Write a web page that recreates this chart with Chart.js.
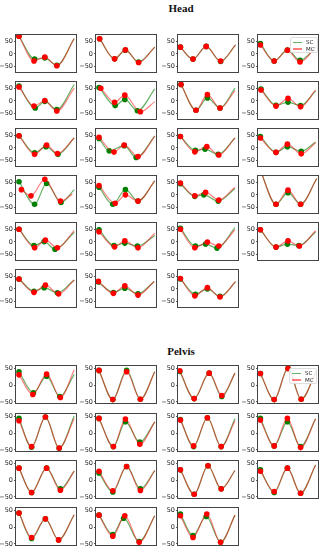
<!DOCTYPE html>
<html>
<head>
<meta charset="utf-8">
<script src="https://cdn.jsdelivr.net/npm/chart.js@4.4.1/dist/chart.umd.min.js"></script>
<style>
  body { margin: 0; background: #fff; width: 324px; height: 550px; position: relative; overflow: hidden; font-family: "DejaVu Sans", sans-serif; }
  canvas { position: absolute; }
  .ttl { position: absolute; font-family: "Liberation Serif", serif; font-weight: bold; font-size: 11px; line-height: 12px; transform: translateX(-50%); color: #111; }
  .leg { position: absolute; background: rgba(255,255,255,0.85); border: 1px solid #ddd; border-radius: 2px; font-size: 5.5px; color: #222; box-sizing: border-box; padding: 1px 2px; }
  .leg div { height: 6.5px; line-height: 6.5px; white-space: nowrap; }
  .leg span.ln { display: inline-block; width: 9px; height: 1.3px; vertical-align: middle; margin-right: 4px; }
</style>
</head>
<body>
<div class="ttl" style="left:181px; top:2px;">Head</div>
<div class="ttl" style="left:181px; top:345px;">Pelvis</div>
<script>
// y ticks and names
const yTicks = [-50, 0, 50];
const seriesNames = ["SC", "MC"];

// panel grid (pixels of the frame)
const colLeft = [16, 96, 178, 258];
const headTop = [34, 81, 128, 175, 222, 269];
const pelvisTop = [365, 413, 460, 507];

// Head: per panel [start, min, max, min, end]
const headScX = [
  [5,31,48,68,97],[6,31,49,71,98],[4,25,47,71,96],[4,27,49,70,97],
  [5,32,48,68,97],[5,32,48,69,98],[5,30,49,70,95],[5,30,50,71,96],
  [5,31,50,70,97],[5,22,47,67,98],[4,29,45,67,95],[4,30,49,72,96],
  [5,31,51,75,97],[5,28,49,70,98],[4,28,43,67,95],[3,30,50,71,98],
  [5,30,47,65,97],[5,30,48,69,98],[4,29,46,65,95],[4,30,49,68,96],
  [5,30,47,69,97],[4,29,48,70,97],[4,29,49,70,96]
];
const headSc = [
  [71,-21,-16,-46,62],[61,-20,15,-33,27],[27,-21,30,-31,36],[42,-29,15,-26,28],
  [60,-29,-2,-35,66],[54,-19,6,-40,48],[66,-38,12,-29,51],[48,-18,-5,-19,40],
  [49,-20,5,-26,40],[38,-12,9,-39,48],[46,-10,-5,-26,40],[46,-18,5,-14,24],
  [53,-38,46,-31,21],[31,-38,21,-25,56],[45,-6,0,-25,26],[105,-38,9,-38,66],
  [51,-15,1,-30,39],[49,-15,-5,-17,26],[55,-17,-9,-25,57],[49,-21,-9,-15,40],
  [40,-10,5,-16,36],[28,-15,3,-20,30],[40,-22,0,-30,28]
];
const headMcX = [
  [5,30,48,68,97],[6,31,49,71,98],[4,25,47,71,96],[4,27,49,70,97],
  [5,30,48,68,97],[8,31,48,74,98],[5,30,49,70,95],[5,30,50,71,96],
  [5,31,51,69,97],[5,30,47,70,98],[4,28,48,68,95],[4,30,49,72,96],
  [9,25,48,74,94],[5,32,49,70,98],[4,28,46,68,95],[3,30,50,71,98],
  [5,31,49,69,97],[5,31,48,70,98],[4,28,49,68,95],[4,30,50,69,96],
  [5,30,49,71,97],[4,29,48,70,97],[4,28,49,70,96]
];
const headMc = [
  [71,-29,-13,-48,61],[61,-20,16,-35,27],[27,-21,30,-29,36],[36,-29,15,-33,30],
  [56,-21,1,-41,51],[51,-6,23,-44,-3],[66,-38,25,-29,41],[44,-21,10,-24,44],
  [49,-26,11,-23,40],[43,-17,11,-35,46],[46,-16,5,-29,40],[40,-18,15,-24,21],
  [21,-4,63,-25,3],[38,-34,0,-25,56],[48,-4,10,-21,31],[105,-38,19,-38,66],
  [51,-24,7,-24,45],[41,-20,4,-24,35],[51,-24,-1,-17,49],[49,-21,4,-17,45],
  [40,-14,15,-20,36],[30,-18,12,-25,30],[42,-28,5,-33,30]
];

// Pelvis
const pelvisScX = [
  [5,29,51,73,97],[5,28,51,74,98],[3,27,52,73,95],[4,27,50,72,97],
  [5,26,49,72,97],[5,29,49,73,98],[4,26,49,72,95],[4,27,49,71,96],
  [5,26,51,74,97],[5,28,51,74,98],[4,27,50,72,95],[4,27,49,71,96],
  [5,26,49,71,97],[5,28,46,72,98],[4,25,47,71,95]
];
const pelvisSc = [
  [39,-23,26,-34,31],[43,-43,43,-42,39],[40,-40,35,-34,35],[34,-43,49,-42,40],
  [43,-42,47,-45,50],[43,-40,33,-27,33],[40,-40,45,-40,43],[43,-38,33,-40,42],
  [35,-37,35,-26,26],[21,-35,40,-26,28],[30,-42,42,-26,28],[30,-37,35,-39,44],
  [41,-34,24,-38,36],[35,-22,26,-43,33],[38,-25,31,-45,35]
];
const pelvisMcX = [
  [5,28,51,74,97],[5,28,51,74,98],[3,27,52,73,95],[4,27,50,72,97],
  [5,26,49,72,97],[5,29,49,73,98],[4,26,49,72,95],[4,27,49,71,96],
  [5,26,51,74,97],[5,28,51,74,98],[4,27,50,72,95],[4,27,49,71,96],
  [5,26,49,71,97],[5,28,48,72,98],[4,25,48,71,95]
];
const pelvisMc = [
  [30,-28,32,-37,44],[43,-43,39,-42,39],[42,-40,35,-31,35],[34,-43,49,-42,40],
  [36,-40,47,-44,43],[43,-40,41,-33,33],[38,-38,45,-40,36],[38,-38,43,-43,42],
  [35,-37,35,-30,26],[26,-32,40,-31,28],[30,-42,42,-26,28],[26,-34,35,-39,44],
  [41,-31,24,-38,36],[35,-27,33,-45,33],[33,-31,38,-45,35]
];

const frame = {
  id: "frame",
  afterDraw(chart) {
    const { ctx, chartArea: a } = chart;
    ctx.save();
    ctx.strokeStyle = "#444";
    ctx.lineWidth = 1;
    ctx.strokeRect(a.left - 0.5, a.top - 0.5, a.right - a.left + 1, a.bottom - a.top + 1);
    ctx.restore();
  }
};

function series(xs, ys) {
  return xs.map((x, i) => ({ x: x, y: ys[i] }));
}

function makePanel(left, top, scX, sc, mcX, mc, yMin, yMax) {
  const c = document.createElement("canvas");
  c.width = 16 + 62 + 2;
  c.height = 39 + 6;
  c.style.left = left - 16 + "px";
  c.style.top = top - 3 + "px";
  document.body.appendChild(c);
  const radii = sc.map((_, i) => (i < 4 ? 2.8 : 0));
  new Chart(c, {
    type: "line",
    data: {
      datasets: [
        {
          label: seriesNames[1],
          data: series(mcX, mc),
          borderColor: "rgba(255,0,0,0.5)",
          borderWidth: 1.2,
          pointRadius: radii,
          pointBackgroundColor: "#ff0000",
          pointBorderWidth: 0,
          cubicInterpolationMode: "monotone",
          tension: 0.4,
          order: 0
        },
        {
          label: seriesNames[0],
          data: series(scX, sc),
          borderColor: "rgba(0,128,0,0.6)",
          borderWidth: 1.2,
          pointRadius: radii,
          pointBackgroundColor: "#008000",
          pointBorderWidth: 0,
          cubicInterpolationMode: "monotone",
          tension: 0.4,
          order: 1
        }
      ]
    },
    options: {
      responsive: false,
      animation: false,
      events: [],
      layout: { padding: { top: 3, right: 2, bottom: 3, left: 0 } },
      plugins: { legend: { display: false }, tooltip: { enabled: false } },
      scales: {
        x: { type: "linear", min: 0, max: 100, display: false },
        y: {
          min: yMin,
          max: yMax,
          afterBuildTicks: (s) => { s.ticks = yTicks.map((v) => ({ value: v })); },
          afterFit: (s) => { s.width = 16; s.paddingTop = 0; s.paddingBottom = 0; },
          grid: { drawOnChartArea: false, tickLength: 2, color: "#333", lineWidth: 0.8 },
          border: { display: false },
          ticks: {
            autoSkip: false,
            padding: 1,
            color: "#222",
            font: { size: 6.5, family: "DejaVu Sans" },
            callback: (v) => String(v).replace("-", "\u2212")
          }
        }
      }
    },
    plugins: [frame]
  });
}

headSc.forEach((sc, i) => {
  makePanel(colLeft[i % 4], headTop[Math.floor(i / 4)], headScX[i], sc, headMcX[i], headMc[i], -73, 76);
});
pelvisSc.forEach((sc, i) => {
  makePanel(colLeft[i % 4], pelvisTop[Math.floor(i / 4)], pelvisScX[i], sc, pelvisMcX[i], pelvisMc[i], -53, 56);
});

function legend(left, top) {
  const d = document.createElement("div");
  d.className = "leg";
  d.style.left = left + "px";
  d.style.top = top + "px";
  d.style.width = "28px";
  d.style.height = "16px";
  d.innerHTML =
    '<div><span class="ln" style="background:rgba(0,128,0,0.6)"></span>' + seriesNames[0] + "</div>" +
    '<div><span class="ln" style="background:rgba(255,0,0,0.5)"></span>' + seriesNames[1] + "</div>";
  document.body.appendChild(d);
}
legend(290, 37);
legend(289, 368);
</script>
</body>
</html>
